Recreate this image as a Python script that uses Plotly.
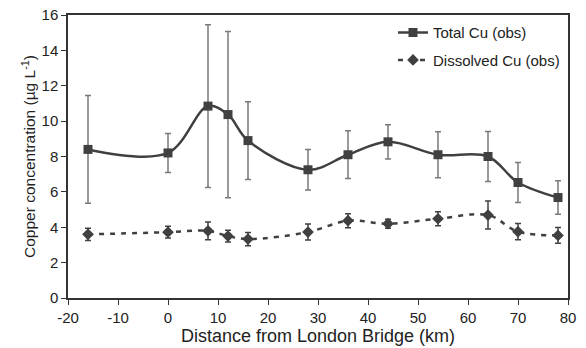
import plotly.graph_objects as go

distance_km = [-16, 0, 8, 12, 16, 28, 36, 44, 54, 64, 70, 78]
total_cu = [8.4, 8.2, 10.85, 10.37, 8.9, 7.25, 8.1, 8.83, 8.1, 8.0, 6.53, 5.68]
total_cu_err = [3.05, 1.1, 4.6, 4.7, 2.2, 1.15, 1.35, 0.97, 1.3, 1.42, 1.13, 0.95]
dissolved_cu = [3.6, 3.72, 3.8, 3.5, 3.33, 3.73, 4.37, 4.2, 4.48, 4.69, 3.75, 3.54]
dissolved_cu_err = [0.35, 0.33, 0.5, 0.33, 0.38, 0.45, 0.4, 0.25, 0.4, 0.79, 0.46, 0.44]
x_ticks = [-20, -10, 0, 10, 20, 30, 40, 50, 60, 70, 80]
x_tick_labels = ["-20", "-10", "0", "10", "20", "30", "40", "50", "60", "70", "80"]
y_ticks = [0, 2, 4, 6, 8, 10, 12, 14, 16]

line_col = "#404040"
err_col = "#7a7a7a"
font_fam = "Liberation Sans, Arial, sans-serif"

fig = go.Figure()
fig.add_trace(go.Scatter(
    x=distance_km, y=total_cu, name="Total Cu (obs)", legendgroup="a",
    mode="lines+markers",
    line=dict(color=line_col, width=2.5, shape="spline", smoothing=1.0),
    marker=dict(symbol="square", size=9, color=line_col),
    error_y=dict(type="data", array=total_cu_err, visible=True,
                 color=err_col, thickness=1.5, width=3),
))
fig.add_trace(go.Scatter(
    x=distance_km, y=dissolved_cu, name="Dissolved Cu (obs)", legendgroup="b",
    mode="lines+markers",
    line=dict(color=line_col, width=2.5, dash="5px,6px", shape="spline", smoothing=1.0),
    marker=dict(symbol="diamond", size=9, color=line_col),
    error_y=dict(type="data", array=dissolved_cu_err, visible=True,
                 color=line_col, thickness=1.5, width=3),
))

fig.update_layout(
    width=586, height=348,
    margin=dict(l=68, r=18, t=15, b=50),
    paper_bgcolor="white", plot_bgcolor="white",
    font=dict(family=font_fam, size=15, color="#222"),
    showlegend=True,
    legend=dict(x=0.65, y=0.996, xanchor="left", yanchor="top",
                bgcolor="rgba(0,0,0,0)", font=dict(size=15),
                tracegroupgap=5, itemwidth=30),
)
fig.update_xaxes(
    range=[-20, 80], tickvals=x_ticks, ticktext=x_tick_labels,
    showgrid=False, zeroline=False, automargin=False,
    showline=True, linecolor="#333", linewidth=1.5, mirror=True,
    ticks="outside", ticklen=5, tickcolor="#333",
    title=dict(text="Distance from London Bridge (km)", font=dict(size=18), standoff=4),
    tickfont=dict(size=15),
)
fig.update_yaxes(
    range=[0, 16], tickvals=y_ticks,
    showgrid=False, zeroline=False, automargin=False,
    showline=True, linecolor="#333", linewidth=1.5, mirror=True,
    ticks="outside", ticklen=5, tickcolor="#333",
    title=dict(text="Copper concentration (µg L<sup>-1</sup>)", font=dict(size=15.5), standoff=2),
    tickfont=dict(size=15),
)

fig.write_html(
    "out.html",
    config={"displayModeBar": False},
    post_script="document.body.style.margin='0';document.body.style.overflow='hidden';",
)
